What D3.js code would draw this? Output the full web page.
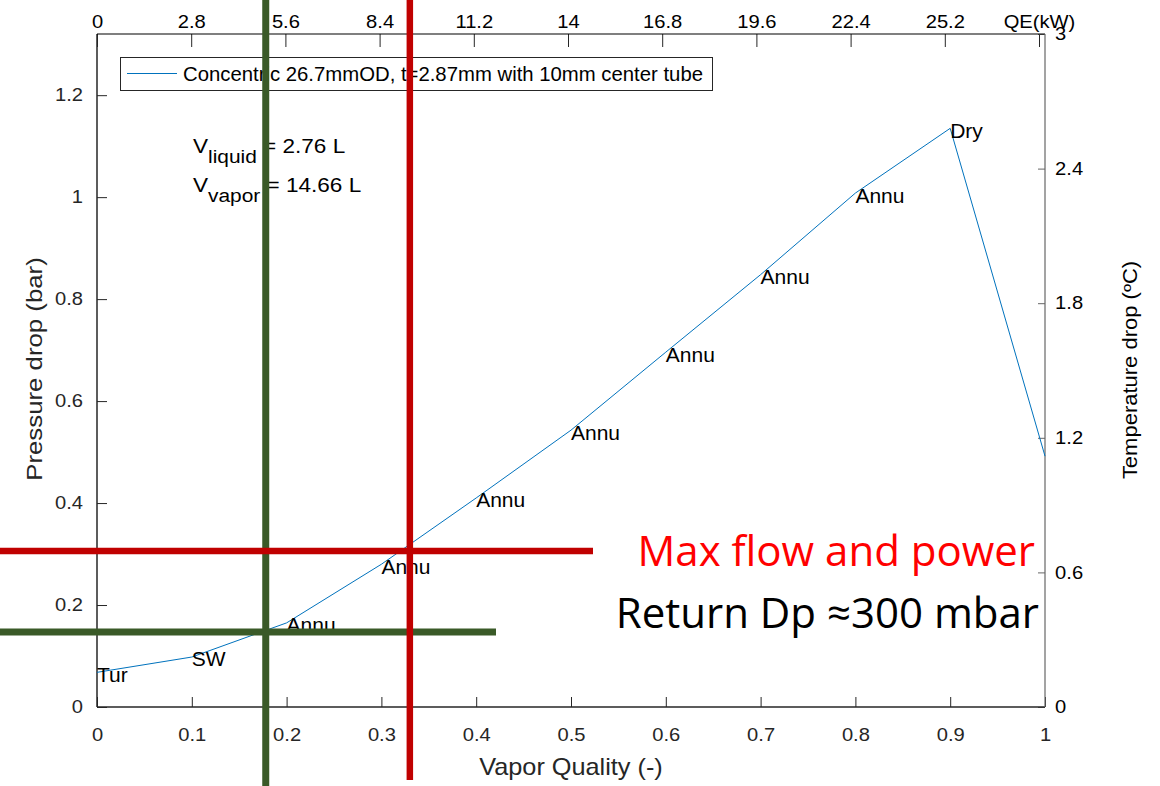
<!DOCTYPE html>
<html>
<head>
<meta charset="utf-8">
<script src="https://cdn.jsdelivr.net/npm/d3@7"></script>
<style>
  body { margin: 0; background: #fff; }
  svg { display: block; }
  .ax text { font-family: "Liberation Sans", Arial, sans-serif; font-size: 18px; }
</style>
</head>
<body>
<svg width="1160" height="786"></svg>
<script>
// vapor quality points and pressure drop
var quality = [0, 0.1, 0.2, 0.3, 0.4, 0.5, 0.6, 0.7, 0.8, 0.9, 1.0];
var dp      = [0.068, 0.098, 0.165, 0.280, 0.410, 0.543, 0.696, 0.848, 1.008, 1.135, 0.492];
var regime  = ["Tur", "SW", "Annu", "Annu", "Annu", "Annu", "Annu", "Annu", "Annu", "Dry", ""];

var xTicks = [0, 0.1, 0.2, 0.3, 0.4, 0.5, 0.6, 0.7, 0.8, 0.9, 1];
var yTicks = [0, 0.2, 0.4, 0.6, 0.8, 1, 1.2];
var tTicks = [0, 0.6, 1.2, 1.8, 2.4, 3];
var qTicks = [0, 2.8, 5.6, 8.4, 11.2, 14, 16.8, 19.6, 22.4, 25.2, 28];

// overlay guides: [quality, pressure drop]
var greenMark = [0.178, 0.147];
var redMark   = [0.330, 0.306];

var svg = d3.select("svg");
var L = 97, R = 1045, T = 34, B = 707;
var font = "Liberation Sans, Arial, sans-serif";

var x = d3.scaleLinear().domain([0, 1]).range([L, R]);
var y = d3.scaleLinear().domain([0, 1.32]).range([B, T]);
var yT = d3.scaleLinear().domain([0, 3]).range([B, T]);
var xQ = d3.scaleLinear().domain([0, 28]).range([L, 1039]);

var axisGray = "#262626";
var fmt = function(d) { return d3.format("~g")(d); };
var sx = 1.12; // tick labels in the picture run a bit wide

// bottom axis
var gx = svg.append("g").attr("class", "ax").attr("transform", "translate(0," + B + ")")
  .call(d3.axisBottom(x).tickValues(xTicks).tickSizeInner(-10).tickSizeOuter(0).tickPadding(21).tickFormat(fmt));
gx.selectAll("text").attr("fill", axisGray);

// left axis
var gy = svg.append("g").attr("class", "ax").attr("transform", "translate(" + L + ",0)")
  .call(d3.axisLeft(y).tickValues(yTicks).tickSizeInner(-10).tickSizeOuter(0).tickPadding(12.5).tickFormat(fmt));
gy.selectAll("text").attr("fill", axisGray);

// top axis (heat load)
var gq = svg.append("g").attr("class", "ax").attr("transform", "translate(0," + T + ")")
  .call(d3.axisTop(xQ).tickValues(qTicks).tickSizeInner(-13).tickSizeOuter(0).tickPadding(6.5)
    .tickFormat(function(d) { return d === 28 ? "QE(kW)" : fmt(d); }));
gq.selectAll("text").attr("fill", "#000");

// right axis (temperature drop)
var gt = svg.append("g").attr("class", "ax").attr("transform", "translate(" + R + ",0)")
  .call(d3.axisRight(yT).tickValues(tTicks).tickSizeInner(-7).tickSizeOuter(0).tickPadding(9).tickFormat(fmt));
gt.selectAll("text").attr("fill", "#000");

svg.selectAll(".ax text").attr("transform", "scale(" + sx + ",1)");
svg.selectAll(".ax path").remove();
svg.selectAll(".ax line").attr("stroke", axisGray);
gt.selectAll("line").attr("stroke", "#666");

svg.append("line").attr("x1", L).attr("x2", R).attr("y1", B).attr("y2", B).attr("stroke", axisGray).attr("stroke-width", 1.5);
svg.append("line").attr("x1", L).attr("x2", L).attr("y1", T).attr("y2", B).attr("stroke", axisGray).attr("stroke-width", 1.5);
svg.append("line").attr("x1", L).attr("x2", R).attr("y1", T).attr("y2", T).attr("stroke", "#000").attr("stroke-width", 1.2);
svg.append("line").attr("x1", R).attr("x2", R).attr("y1", T).attr("y2", B).attr("stroke", "#666").attr("stroke-width", 1.2);

// axis titles
svg.append("text").attr("transform", "translate(" + (L + R) / 2 + ",775) scale(1.1,1)").attr("text-anchor", "middle")
  .attr("font-family", font).attr("font-size", 23).attr("fill", axisGray)
  .text("Vapor Quality (-)");
svg.append("text").attr("transform", "translate(42,369) rotate(-90) scale(1.2,1)").attr("text-anchor", "middle")
  .attr("font-family", font).attr("font-size", 21.5).attr("fill", axisGray)
  .text("Pressure drop (bar)");
svg.append("text").attr("transform", "translate(1137,370) rotate(-90) scale(1.1,1)").attr("text-anchor", "middle")
  .attr("font-family", font).attr("font-size", 20).attr("fill", "#000")
  .text("Temperature drop (ºC)");

// curve
var pts = quality.map(function(q, i) { return [q, dp[i], regime[i]]; });
svg.append("path").datum(pts)
  .attr("fill", "none").attr("stroke", "#0072BD").attr("stroke-width", 1)
  .attr("d", d3.line().x(function(d) { return x(d[0]); }).y(function(d) { return y(d[1]); }));

svg.append("g").selectAll("text").data(pts.filter(function(d) { return d[2]; })).enter().append("text")
  .attr("x", function(d) { return x(d[0]); })
  .attr("y", function(d) { return y(d[1]); })
  .attr("dy", "0.45em")
  .attr("font-family", font).attr("font-size", 21).attr("fill", "#000")
  .text(function(d) { return d[2]; });

// volume annotation
var vol = svg.append("g").attr("font-family", font).attr("font-size", 20.5).attr("fill", "#000");
var t1 = vol.append("text").attr("transform", "translate(193,153) scale(1.1,1)");
t1.append("tspan").text("V");
t1.append("tspan").attr("font-size", 19).attr("dy", 10).text("liquid");
t1.append("tspan").attr("dy", -10).text(" = 2.76 L");
var t2 = vol.append("text").attr("transform", "translate(193,192) scale(1.1,1)");
t2.append("tspan").text("V");
t2.append("tspan").attr("font-size", 19).attr("dy", 10).text("vapor");
t2.append("tspan").attr("dy", -10).text(" = 14.66 L");

// legend
svg.append("rect").attr("x", 120.5).attr("y", 57.5).attr("width", 592).attr("height", 33)
  .attr("fill", "#fff").attr("stroke", axisGray).attr("stroke-width", 1);
svg.append("line").attr("x1", 127).attr("x2", 177).attr("y1", 73.5).attr("y2", 73.5)
  .attr("stroke", "#0072BD").attr("stroke-width", 1);
svg.append("text").attr("x", 183).attr("y", 81)
  .attr("font-family", font).attr("font-size", 20).attr("fill", "#000")
  .attr("textLength", 520).attr("lengthAdjust", "spacingAndGlyphs")
  .text("Concentric 26.7mmOD, t=2.87mm with 10mm center tube");

// guide lines
var green = "#3a5a28", red = "#c00000";
svg.append("line").attr("x1", x(greenMark[0])).attr("x2", x(greenMark[0])).attr("y1", 0).attr("y2", 786)
  .attr("stroke", green).attr("stroke-width", 7);
svg.append("line").attr("x1", 0).attr("x2", 496).attr("y1", y(greenMark[1])).attr("y2", y(greenMark[1]))
  .attr("stroke", green).attr("stroke-width", 7);
svg.append("line").attr("x1", 0).attr("x2", 593).attr("y1", y(redMark[1])).attr("y2", y(redMark[1]))
  .attr("stroke", red).attr("stroke-width", 6.5);
svg.append("line").attr("x1", x(redMark[0])).attr("x2", x(redMark[0])).attr("y1", 0).attr("y2", 780)
  .attr("stroke", red).attr("stroke-width", 6.5);

// callout
svg.append("text").attr("x", 1035).attr("y", 566).attr("text-anchor", "end")
  .attr("font-family", "Open Sans, sans-serif").attr("font-size", 42).attr("fill", "#ff0000")
  .text("Max flow and power");
svg.append("text").attr("x", 1039).attr("y", 628).attr("text-anchor", "end")
  .attr("font-family", "Open Sans, sans-serif").attr("font-size", 42).attr("fill", "#000")
  .text("Return Dp ≈300 mbar");
</script>
</body>
</html>
